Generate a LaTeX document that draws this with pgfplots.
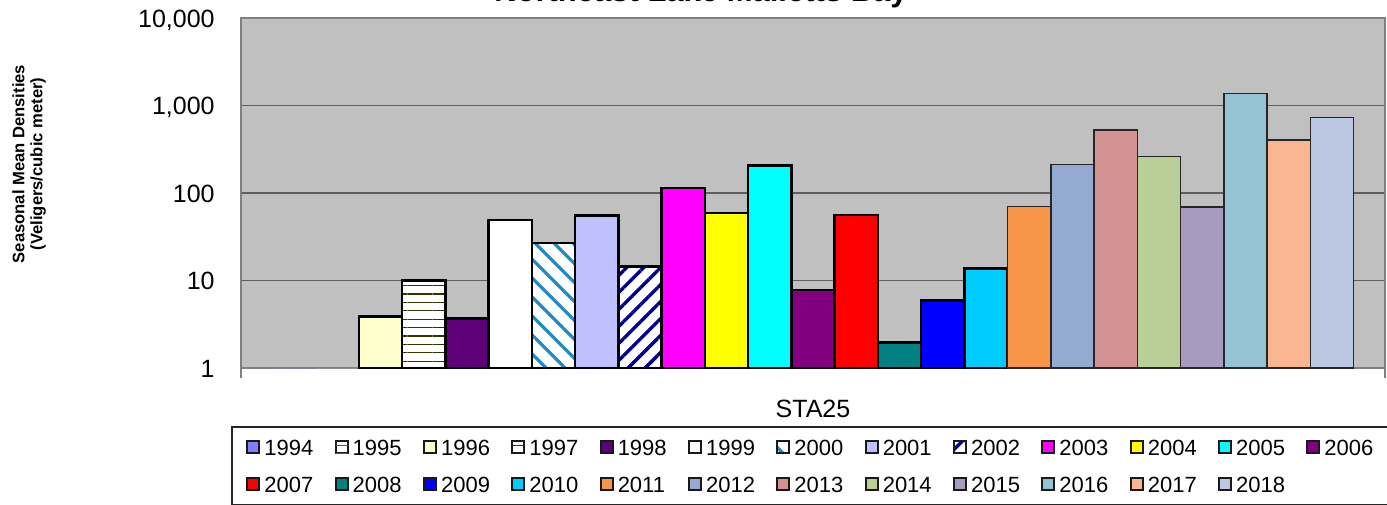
\documentclass[border=0pt]{standalone}
\usepackage{fontspec}
\setmainfont{Liberation Sans}
\usepackage{pgfplots}
\pgfplotsset{compat=1.18}
\usetikzlibrary{patterns.meta}

\definecolor{c1994}{HTML}{8080FF}
\definecolor{c1995}{HTML}{993366}
\definecolor{c1996}{HTML}{FFFFCC}
\definecolor{c1997}{HTML}{333300}
\definecolor{c1998}{HTML}{5E0078}
\definecolor{c2000}{HTML}{1E88C8}
\definecolor{c2001}{HTML}{C0C0FF}
\definecolor{c2002}{HTML}{000090}
\definecolor{c2003}{HTML}{FF00FF}
\definecolor{c2004}{HTML}{FFFF00}
\definecolor{c2005}{HTML}{00FFFF}
\definecolor{c2006}{HTML}{800080}
\definecolor{c2007}{HTML}{FF0000}
\definecolor{c2008}{HTML}{008080}
\definecolor{c2009}{HTML}{0000FF}
\definecolor{c2010}{HTML}{00CCFF}
\definecolor{c2011}{HTML}{F79646}
\definecolor{c2012}{HTML}{95AAD0}
\definecolor{c2013}{HTML}{D29292}
\definecolor{c2014}{HTML}{BACE98}
\definecolor{c2015}{HTML}{A99BC0}
\definecolor{c2016}{HTML}{93C3D5}
\definecolor{c2017}{HTML}{F9B690}
\definecolor{c2018}{HTML}{BCC8E1}
\definecolor{plotbg}{HTML}{C0C0C0}
\definecolor{gridc}{HTML}{5F5F5F}
\definecolor{axisgray}{HTML}{808080}

\pgfplotsset{
  old/.style={draw=black, line width=1.25pt},
  new/.style={draw=black!85, line width=0.75pt},
  /pgfplots/ybar legend/.style={
    /pgfplots/legend image code/.code={
      \draw[##1, draw=black!90, line width=1pt] (0pt,-3pt) rectangle (6pt,3pt);
    }
  },
}

\begin{document}
\begin{tikzpicture}
\begin{axis}[
  at={(120.5pt,68pt)}, anchor=south west,
  scale only axis, width=572pt, height=175pt,
  ymode=log, ymin=1, ymax=10000, log origin=infty,
  xmin=-1, xmax=1,
  ybar=0pt, bar width=21.62pt,
  xtick={0}, xticklabels={STA25},
  ytick={1,10,100,1000,10000},
  yticklabels={1,10,100,{1,000},{10,000}},
  yminorticks=false,
  ymajorgrids,
  major grid style={draw=gridc, line width=0.6pt},
  major tick length=0pt,
  xtick pos=left,
  extra x ticks={-1,1},
  extra x tick labels={},
  extra x tick style={major tick length=5pt, tick align=outside,
    tick style={draw=axisgray, line width=0.75pt}},
  axis line style={draw=axisgray, line width=0.75pt},
  axis background/.style={fill=plotbg},
  tick label style={font=\fontsize{12.5}{15}\selectfont},
  yticklabel style={anchor=east, xshift=-13pt, inner sep=0pt,
    text height=9pt, text depth=0pt},
  xticklabel style={anchor=base, yshift=-24.5pt, inner sep=0pt},
  legend columns=13,
  legend cell align=left,
  legend style={name=leg, at={(-0.00787,-0.1686)}, anchor=north west,
    draw=none, fill=white,
    inner xsep=7pt, inner ysep=6pt,
    font=\fontsize{11}{13}\selectfont, row sep=10.6pt,
    nodes={inner sep=0pt, text height=7.9pt, text depth=0pt},
    /tikz/every odd column/.style={column sep=2pt},
    /tikz/every even column/.style={column sep=10.7pt}},
]
\addplot[fill=c1994, draw=none] coordinates {(0,1)};
\addplot[fill=white, draw=none, postaction={pattern={Lines[angle=0, distance=4.2pt, line width=0.6pt]}, pattern color=c1995}] coordinates {(0,1)};
\addplot[old, fill=c1996] coordinates {(0,3.9)};
\addplot[old, fill=white, postaction={pattern={Lines[angle=0, distance=4.2pt, line width=0.6pt]}, pattern color=c1997}] coordinates {(0,10)};
\addplot[old, fill=c1998] coordinates {(0,3.7)};
\addplot[old, fill=white] coordinates {(0,49)};
\addplot[old, fill=white, postaction={pattern={Lines[angle=-45, distance=6.7pt, line width=1.6pt]}, pattern color=c2000}] coordinates {(0,27)};
\addplot[old, fill=c2001] coordinates {(0,55)};
\addplot[old, fill=white, postaction={pattern={Lines[angle=45, distance=6pt, line width=1.7pt]}, pattern color=c2002}] coordinates {(0,14.5)};
\addplot[old, fill=c2003] coordinates {(0,114)};
\addplot[old, fill=c2004] coordinates {(0,59)};
\addplot[old, fill=c2005] coordinates {(0,205)};
\addplot[old, fill=c2006] coordinates {(0,7.8)};
\addplot[old, fill=c2007] coordinates {(0,56)};
\addplot[old, fill=c2008] coordinates {(0,1.95)};
\addplot[old, fill=c2009] coordinates {(0,5.9)};
\addplot[old, fill=c2010] coordinates {(0,13.8)};
\addplot[new, fill=c2011] coordinates {(0,70)};
\addplot[new, fill=c2012] coordinates {(0,213)};
\addplot[new, fill=c2013] coordinates {(0,525)};
\addplot[new, fill=c2014] coordinates {(0,260)};
\addplot[new, fill=c2015] coordinates {(0,69)};
\addplot[new, fill=c2016] coordinates {(0,1380)};
\addplot[new, fill=c2017] coordinates {(0,405)};
\addplot[new, fill=c2018] coordinates {(0,725)};
\legend{1994,1995,1996,1997,1998,1999,2000,2001,2002,2003,2004,2005,2006,
  2007,2008,2009,2010,2011,2012,2013,2014,2015,2016,2017,2018}
\end{axis}
\draw[black!85, line width=0.6pt] (leg.north west) rectangle ([xshift=20pt]leg.south east);
\node[rotate=90, align=center, font=\bfseries\fontsize{8.3}{9}\selectfont]
  at (14.5pt,170pt) {Seasonal Mean Densities\\(Veligers/cubic meter)};
\node[anchor=base, inner sep=0pt, font=\bfseries\fontsize{15.5}{18}\selectfont]
  at (350.5pt,251pt) {Northeast Lake Malletts Bay};
\pgfresetboundingbox
\useasboundingbox (0,0) rectangle (693.5pt,252pt);
\end{tikzpicture}
\end{document}
